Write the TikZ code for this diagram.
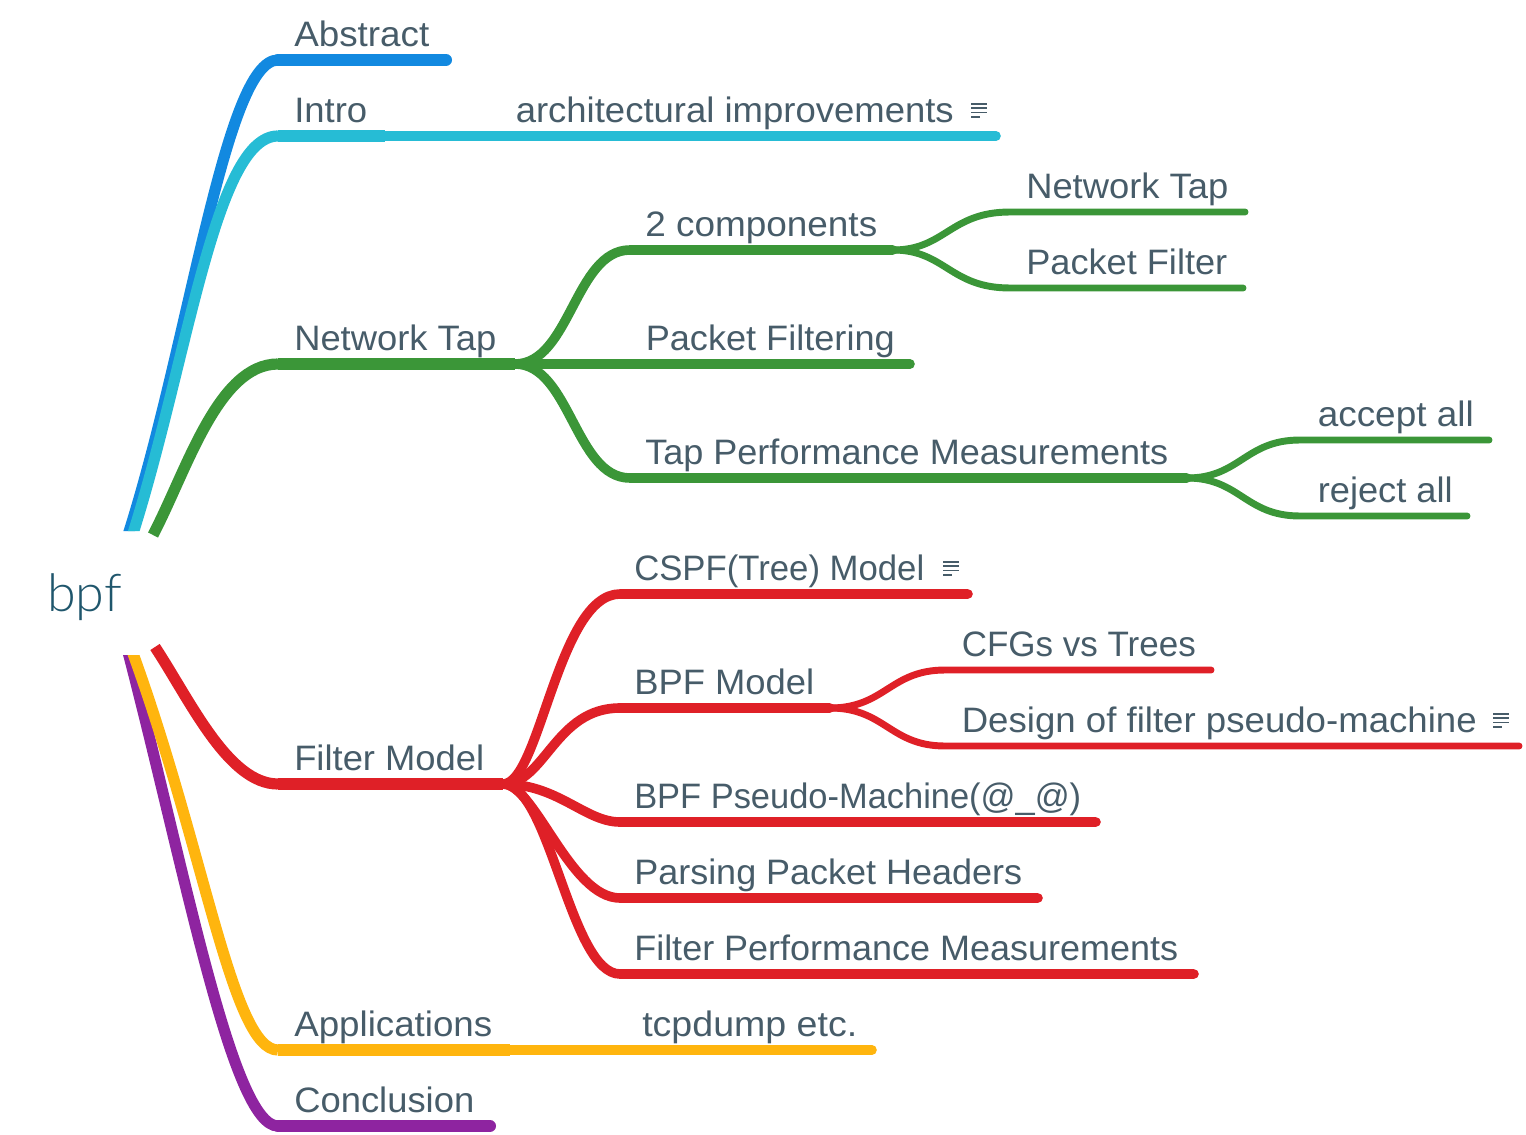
\documentclass[tikz,border=0pt]{standalone}
\usepackage{graphicx}
\usepackage{fontspec}
\setmainfont{Liberation Sans}
\newfontfamily\rootfont{Lato Light}
\definecolor{cblue}{HTML}{1289E0}
\definecolor{ccyan}{HTML}{26BCD5}
\definecolor{cgreen}{HTML}{3B9638}
\definecolor{cred}{HTML}{DF2027}
\definecolor{cyel}{HTML}{FFB50E}
\definecolor{cpur}{HTML}{8E24A0}
\definecolor{ctext}{HTML}{475C69}
\definecolor{croot}{HTML}{1F566C}
\tikzset{
  lbl/.style={anchor=base west,inner sep=0pt,text=ctext,font=\fontsize{26.5pt}{32pt}\selectfont},
  rootlbl/.style={anchor=base west,inner sep=0pt,text=croot,font=\rootfont\fontsize{39pt}{44pt}\selectfont},
  main/.style={line width=9pt,line cap=butt},
  rootcurve/.style={line width=8.4pt,line cap=butt},
  mid/.style={line width=7.2pt,line cap=round},
  thin/.style={line width=5.2pt,line cap=round},
  notebar/.style={line width=1.3pt,ctext},
}
\newcommand{\noteicon}[2]{%
  \draw[notebar] (#1,#2) -- ++(16,0) (#1,#2+4.3) -- ++(16,0) (#1,#2+8.6) -- ++(16,0) (#1,#2+13) -- ++(9,0);}
\newcommand{\tw}[2]{\resizebox{\dimexpr #1pt*3/4\relax}{\height}{#2}}
\begin{document}
\begin{tikzpicture}[x=0.75pt,y=-0.75pt]
\useasboundingbox (0,0) rectangle (1526,1134);
% root
\node[rootlbl] (bpf) at (47,611) {bpf};
\coordinate (rtA) at (128,535);
\coordinate (rtI) at (132.5,535);
\coordinate (rtN) at (153,535);
\coordinate (rtF) at (155,647);
\coordinate (rtY) at (131,648);
\coordinate (rtP) at (127,648);
% first-level labels
\node[lbl] (abstract) at (294,46.5) {\tw{135}{Abstract}};
\node[lbl] (intro) at (294,122.5) {\tw{73}{Intro}};
\node[lbl] (ntap) at (294,350) {\tw{202}{Network Tap}};
\node[lbl] (fmodel) at (294,770) {\tw{190}{Filter Model}};
\node[lbl] (apps) at (294,1036) {\tw{198}{Applications}};
\node[lbl] (concl) at (294,1112) {\tw{180}{Conclusion}};
% junctions
\coordinate (jA) at (278,60);  \coordinate (eA) at (446,60);
\coordinate (jI) at (278,136); \coordinate (eI) at (385,136);
\coordinate (jN) at (278,364); \coordinate (eN) at (515,364);
\coordinate (jF) at (278,784); \coordinate (eF) at (503,784);
\coordinate (jY) at (278,1050); \coordinate (eY) at (510,1050);
\coordinate (jP) at (278,1126); \coordinate (eP) at (490,1126);
% root connectors
\begin{scope}
\clip (0,0) rectangle (1526,531) (0,655) rectangle (1526,1134);
\draw[cblue,rootcurve] (rtA) .. controls (190,340) and (225,60) .. (jA);
\draw[ccyan,rootcurve] (rtI) .. controls (188,360) and (215,136) .. (jI);
\draw[cpur,rootcurve] (rtP) .. controls (185,870) and (232,1126) .. (jP);
\draw[cyel,rootcurve] (rtY) .. controls (205,850) and (232,1050) .. (jY);
\end{scope}
\draw[cgreen,rootcurve] (rtN) .. controls (187,470) and (218,364) .. (jN);
\draw[cred,rootcurve] (rtF) .. controls (190,700) and (228,784) .. (jF);
\draw[cblue,main,line cap=round] (jA) -- (eA);
\draw[ccyan,main] (jI) -- (eI);
\draw[cgreen,main] (jN) -- (eN);
\draw[cred,main] (jF) -- (eF);
\draw[cyel,main] (jY) -- (eY);
\draw[cpur,main,line cap=round] (jP) -- (eP);
% cyan + yellow children
\node[lbl] (arch) at (515.5,122.5) {\tw{438}{architectural improvements}};
\coordinate (archE) at (996,136);
\draw[ccyan,mid] (eI) -- (archE);
\noteicon{971}{104}
\node[lbl] (tcp) at (642,1036) {\tw{215}{tcpdump etc.}};
\coordinate (tcpE) at (872,1050);
\draw[cyel,mid] (eY) -- (tcpE);
% green
\node[lbl] (twoc) at (645,236) {\tw{232}{2 components}};
\node[lbl] (pfing) at (645.5,350) {\tw{249}{Packet Filtering}};
\node[lbl] (tapm) at (645,464) {\tw{523}{Tap Performance Measurements}};
\coordinate (j2) at (630,250); \coordinate (e2) at (893,250);
\coordinate (j3) at (630,364); \coordinate (e3) at (910,364);
\coordinate (j4) at (630,478); \coordinate (e4) at (1187,478);
\draw[cgreen,mid] (eN) .. controls (570,364) and (575,250) .. (j2) -- (e2);
\draw[cgreen,mid] (eN) -- (e3);
\draw[cgreen,mid] (eN) .. controls (570,364) and (575,478) .. (j4) -- (e4);
\node[lbl] (nt2) at (1026,198.5) {\tw{202}{Network Tap}};
\node[lbl] (pf2) at (1026,274) {\tw{201}{Packet Filter}};
\node[lbl] (acc) at (1317.5,426) {\tw{156}{accept all}};
\node[lbl] (rej) at (1317.5,502) {\tw{135}{reject all}};
\coordinate (jn2) at (1010,212); \coordinate (en2) at (1245,212);
\coordinate (jp2) at (1010,288); \coordinate (ep2) at (1243,288);
\coordinate (ja) at (1300,440); \coordinate (ea) at (1489,440);
\coordinate (jr) at (1300,516); \coordinate (er) at (1467,516);
\draw[cgreen,thin] (e2) .. controls (945,250) and (950,212) .. (jn2) -- (en2);
\draw[cgreen,thin] (e2) .. controls (945,250) and (950,288) .. (jp2) -- (ep2);
\draw[cgreen,thin] (e4) .. controls (1240,478) and (1245,440) .. (ja) -- (ea);
\draw[cgreen,thin] (e4) .. controls (1240,478) and (1245,516) .. (jr) -- (er);
% red
\node[lbl] (cspf) at (634,580) {\tw{290}{CSPF(Tree) Model}};
\node[lbl] (bpfm) at (634,694) {\tw{180}{BPF Model}};
\node[lbl] (bpsm) at (634,808) {\tw{447}{BPF Pseudo-Machine(@\_@)}};
\node[lbl] (parse) at (634,884) {\tw{388}{Parsing Packet Headers}};
\node[lbl] (fperf) at (634,960) {\tw{544}{Filter Performance Measurements}};
\noteicon{943}{562}
\coordinate (rj1) at (620,594); \coordinate (re1) at (968,594);
\coordinate (rj2) at (620,708); \coordinate (re2) at (830,708);
\coordinate (rj3) at (620,822); \coordinate (re3) at (1096,822);
\coordinate (rj4) at (620,898); \coordinate (re4) at (1038,898);
\coordinate (rj5) at (620,974); \coordinate (re5) at (1194,974);
\draw[cred,mid] (eF) .. controls (540,784) and (558,594) .. (rj1) -- (re1);
\draw[cred,mid] (eF) .. controls (545,784) and (555,708) .. (rj2) -- (re2);
\draw[cred,mid] (eF) .. controls (558,784) and (585,822) .. (rj3) -- (re3);
\draw[cred,mid] (eF) .. controls (535,784) and (570,898) .. (rj4) -- (re4);
\draw[cred,mid] (eF) .. controls (550,784) and (570,974) .. (rj5) -- (re5);
\node[lbl] (cfg) at (961.5,656) {\tw{234}{CFGs vs Trees}};
\node[lbl] (dsg) at (961.5,732) {\tw{515}{Design of filter pseudo-machine}};
\noteicon{1493}{714}
\coordinate (jc) at (945,670); \coordinate (ec) at (1211,670);
\coordinate (jd) at (945,746); \coordinate (ed) at (1519,746);
\draw[cred,thin] (re2) .. controls (885,708) and (890,670) .. (jc) -- (ec);
\draw[cred,thin] (re2) .. controls (885,708) and (890,746) .. (jd) -- (ed);
\end{tikzpicture}
\end{document}
